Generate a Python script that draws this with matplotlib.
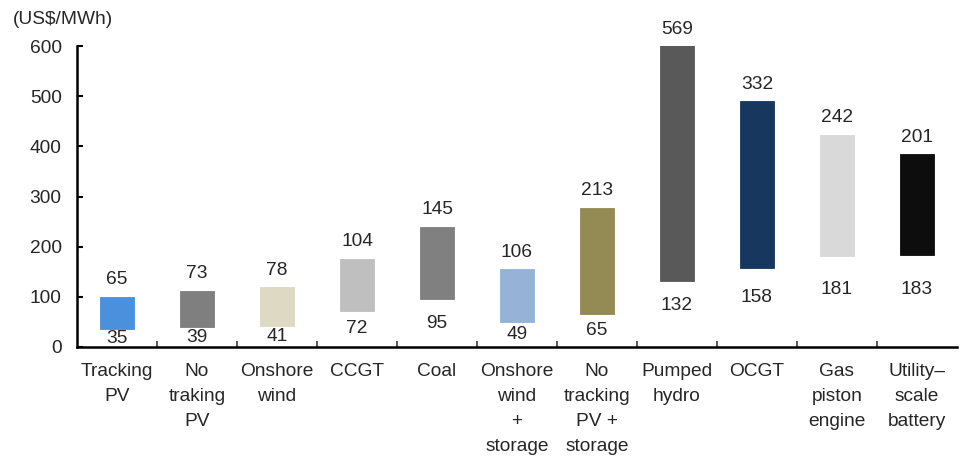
import numpy as np
import matplotlib.pyplot as plt

plt.rcParams['font.family'] = ['Liberation Sans', 'DejaVu Sans']

# LCOE ranges (US$/MWh): low end and spread (high - low)
categories = ["Tracking\nPV", "No\ntraking\nPV", "Onshore\nwind", "CCGT", "Coal",
              "Onshore\nwind\n+\nstorage", "No\ntracking\nPV +\nstorage",
              "Pumped\nhydro", "OCGT", "Gas\npiston\nengine", "Utility\u2013\nscale\nbattery"]
low = [35, 39, 41, 72, 95, 49, 65, 132, 158, 181, 183]
spread = [65, 73, 78, 104, 145, 106, 213, 569, 332, 242, 201]
colors = ['#4a90dd', '#7f7f7f', '#ddd9c3', '#bfbfbf', '#808080', '#95b3d7',
          '#948a54', '#595959', '#17375e', '#d9d9d9', '#0d0d0d']

txt = '#262626'
fs = 13.8
ymax = 600

fig = plt.figure(figsize=(9.61, 4.61), dpi=100)
ax = fig.add_axes([0.0801, 0.2473, 0.9157, 0.6529])

x = np.arange(len(categories))
ax.bar(x, spread, bottom=low, width=0.42, color=colors, edgecolor=colors, linewidth=0.6)

for xi, lo, sp in zip(x, low, spread):
    top = min(lo + sp, ymax)
    ax.annotate(str(sp), (xi, top), xytext=(0, 6), textcoords='offset points',
                ha='center', va='bottom', fontsize=fs, color=txt, annotation_clip=False)
    ly = lo / 2 if lo < 100 else lo * 0.63
    ax.text(xi, ly, str(lo), ha='center', va='center', fontsize=fs, color=txt)

ax.set_xlim(-0.5, len(categories) - 0.5)
ax.set_ylim(0, ymax)
ax.set_yticks(range(0, 601, 100))
ax.set_xticks(x)
ax.set_xticklabels(categories, fontsize=fs, color=txt, linespacing=1.62, va='top')
ax.set_xticks(np.arange(0.5, len(categories) - 0.5, 1), minor=True)
ax.tick_params(axis='x', which='major', length=0, pad=11.5)
ax.tick_params(axis='x', which='minor', direction='in', length=4, width=1.2, color='#404040')
ax.tick_params(axis='y', direction='in', length=4, width=1.5, labelsize=fs, labelcolor=txt, pad=11)

for s in ['top', 'right']:
    ax.spines[s].set_visible(False)
for s in ['left', 'bottom']:
    ax.spines[s].set_linewidth(1.8)
    ax.spines[s].set_color('black')

fig.text(13 / 961, 1 - 20 / 461, '(US$/MWh)', ha='left', va='center', fontsize=fs, color=txt)

fig.savefig('out.png', dpi=100)
